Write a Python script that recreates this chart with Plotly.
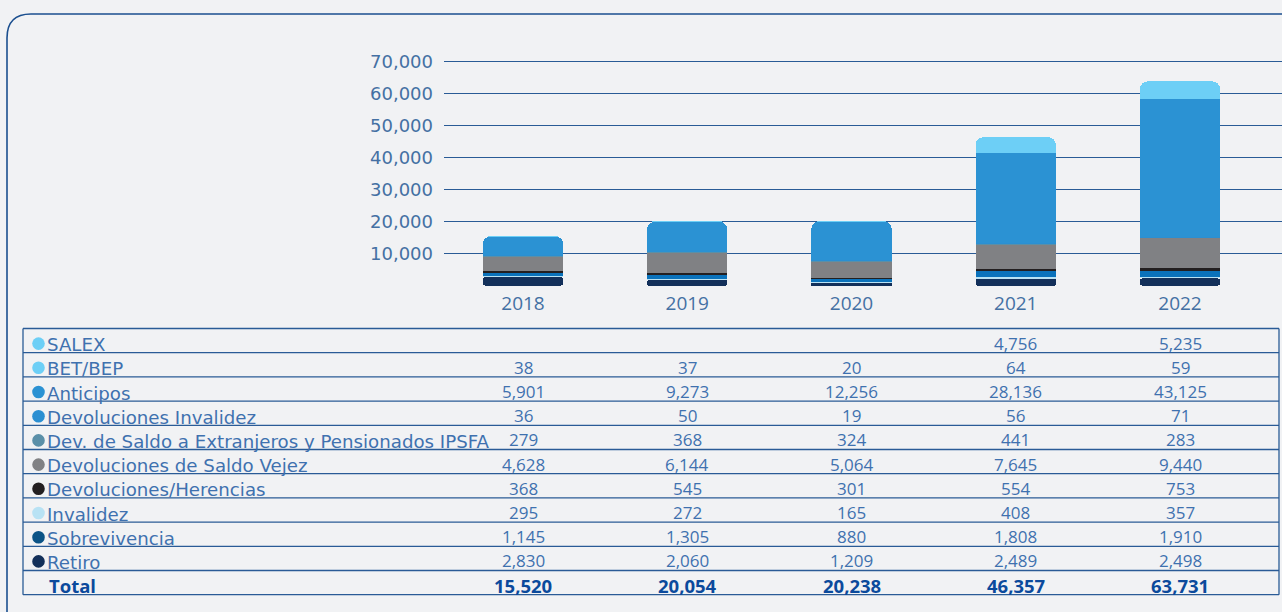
import plotly.graph_objects as go

# ---------------- data ----------------
years = ["2018", "2019", "2020", "2021", "2022"]
salex = [None, None, None, 4756, 5235]
bet_bep = [38, 37, 20, 64, 59]
anticipos = [5901, 9273, 12256, 28136, 43125]
dev_invalidez = [36, 50, 19, 56, 71]
dev_ipsfa = [279, 368, 324, 441, 283]
dev_vejez = [4628, 6144, 5064, 7645, 9440]
herencias = [368, 545, 301, 554, 753]
invalidez = [295, 272, 165, 408, 357]
sobrevivencia = [1145, 1305, 880, 1808, 1910]
retiro = [2830, 2060, 1209, 2489, 2498]
y_ticks = [10000, 20000, 30000, 40000, 50000, 60000, 70000]

labels = {
    "salex": "SALEX",
    "bet": "BET/BEP",
    "anticipos": "Anticipos",
    "devinv": "Devoluciones Invalidez",
    "ipsfa": "Dev. de Saldo a Extranjeros y Pensionados IPSFA",
    "vejez": "Devoluciones de Saldo Vejez",
    "herencias": "Devoluciones/Herencias",
    "invalidez": "Invalidez",
    "sobrev": "Sobrevivencia",
    "retiro": "Retiro",
}
values = {
    "salex": salex, "bet": bet_bep, "anticipos": anticipos, "devinv": dev_invalidez,
    "ipsfa": dev_ipsfa, "vejez": dev_vejez, "herencias": herencias,
    "invalidez": invalidez, "sobrev": sobrevivencia, "retiro": retiro,
}
table_order = ["salex", "bet", "anticipos", "devinv", "ipsfa", "vejez",
               "herencias", "invalidez", "sobrev", "retiro"]
stack_order = ["invalidez", "sobrev", "herencias", "vejez", "ipsfa",
               "devinv", "anticipos", "bet", "salex"]

# ---------------- styles ----------------
bar_colors = {
    "salex": "#6dcff6", "bet": "#6dcff6", "anticipos": "#2b92d3", "devinv": "#2b8fd2",
    "ipsfa": "#5a8fa8", "vejez": "#808184", "herencias": "#231f20",
    "invalidez": "#b8e2f4", "sobrev": "#0a72bb", "retiro": "#13305a",
}
dot_colors = dict(bar_colors)
dot_colors["sobrev"] = "#0b5386"

BG = "#f1f2f4"
LINE = "#2a5b96"
TXT = "#3f71af"
TICK = "#4470a3"
BOLD = "#0b4a9c"
FONT = "Open Sans"
LFONT = "DejaVu Sans"

W, H = 1282, 612
ML, MR, MT, MB = 444, 0, 58, 326
PW, PH = W - ML - MR, H - MT - MB


def pxx(x):
    return (x - ML) / PW


def pxy(y):
    return (H - MB - y) / PH


fig = go.Figure()

# Retiro: drawn downward from its top so the bottom corners get rounded
fig.add_trace(go.Bar(
    x=years, y=[-v for v in retiro], base=retiro,
    marker=dict(color=bar_colors["retiro"], cornerradius=7, line=dict(width=0)),
    name=labels["retiro"], hoverinfo="skip", showlegend=False,
))
# transparent spacer so the rest of the stack starts on top of Retiro
fig.add_trace(go.Bar(
    x=years, y=retiro, marker=dict(color="rgba(0,0,0,0)", line=dict(width=0)),
    hoverinfo="skip", showlegend=False,
))
for key in stack_order:
    fig.add_trace(go.Bar(
        x=years, y=values[key], name=labels[key],
        marker=dict(color=bar_colors[key], line=dict(width=0)),
        showlegend=False,
    ))

shapes = []
annotations = []

# container border (rounded top-left corner)
cx0, cy0, cr = 7, 14, 24
x_a, y_b = pxx(cx0), pxy(660)
path = (f"M {x_a},{y_b} L {x_a},{pxy(cy0 + cr)} "
        f"Q {x_a},{pxy(cy0)} {pxx(cx0 + cr)},{pxy(cy0)} L {pxx(1300)},{pxy(cy0)}")
shapes.append(dict(type="path", xref="paper", yref="paper", path=path,
                   line=dict(color="#1b4f8f", width=1.6)))

# table
t_top, row_h = 328.5, 24.2
t_left, t_right = 23, 1279
n_rows = len(table_order) + 1
for i in range(n_rows + 1):
    yy = pxy(t_top + i * row_h)
    shapes.append(dict(type="line", xref="paper", yref="paper",
                       x0=pxx(t_left), x1=pxx(t_right), y0=yy, y1=yy,
                       line=dict(color=LINE, width=1.3)))
for xx in (t_left, t_right):
    shapes.append(dict(type="line", xref="paper", yref="paper",
                       x0=pxx(xx), x1=pxx(xx), y0=pxy(t_top),
                       y1=pxy(t_top + n_rows * row_h),
                       line=dict(color=LINE, width=1.3)))

for i, key in enumerate(table_order):
    rc = t_top + (i + 0.5) * row_h
    shapes.append(dict(type="circle", xref="paper", yref="paper",
                       xsizemode="pixel", ysizemode="pixel",
                       xanchor=pxx(38.5), yanchor=pxy(rc + 3),
                       x0=-6.3, x1=6.3, y0=-6.3, y1=6.3,
                       fillcolor=dot_colors[key], line=dict(width=0)))
    annotations.append(dict(xref="paper", yref="paper", x=pxx(46), y=pxy(rc + 4),
                            text=labels[key], showarrow=False, xanchor="left",
                            yanchor="middle", borderpad=0,
                            font=dict(family=LFONT, size=18.2, color=TXT)))
    for j, v in enumerate(values[key]):
        if v is None:
            continue
        annotations.append(dict(xref="x", yref="paper", x=j, y=pxy(rc + 2.5),
                                text=f"{v:,}", showarrow=False, xanchor="center",
                                yanchor="middle", borderpad=0,
                                font=dict(family=FONT, size=17, color=TXT)))

# total row
rc = t_top + (n_rows - 0.5) * row_h
annotations.append(dict(xref="paper", yref="paper", x=pxx(48), y=pxy(rc + 3),
                        text="<b>Total</b>", showarrow=False, xanchor="left",
                        yanchor="middle", borderpad=0,
                        font=dict(family=FONT, size=18.5, color=BOLD)))
for j, yr in enumerate(years):
    tot = sum((values[k][j] or 0) for k in table_order)
    annotations.append(dict(xref="x", yref="paper", x=j, y=pxy(rc + 3),
                            text=f"<b>{tot:,}</b>", showarrow=False, xanchor="center",
                            yanchor="middle", borderpad=0,
                            font=dict(family=FONT, size=18.5, color=BOLD)))

fig.update_layout(
    width=W, height=H,
    margin=dict(l=ML, r=MR, t=MT, b=MB, pad=0),
    paper_bgcolor=BG, plot_bgcolor=BG,
    barmode="stack", bargap=0.51, barcornerradius=8,
    showlegend=False,
    shapes=shapes, annotations=annotations,
    font=dict(family=FONT),
)
fig.update_xaxes(type="category", range=[-0.481, 4.621], showgrid=False,
                 zeroline=False, showline=False, ticks="", ticklabelstandoff=4,
                 tickfont=dict(family=FONT, size=19, color=TICK))
fig.update_yaxes(range=[0, 71000], tickvals=y_ticks, tickformat=",",
                 showgrid=True, gridcolor=LINE, gridwidth=1.3, zeroline=False,
                 showline=False, ticks="", ticklabelstandoff=10,
                 tickfont=dict(family=LFONT, size=18, color=TICK))

fig.write_html(
    "out.html",
    config={"displayModeBar": False},
    post_script=f"document.body.style.margin='0';document.body.style.background='{BG}';",
)
